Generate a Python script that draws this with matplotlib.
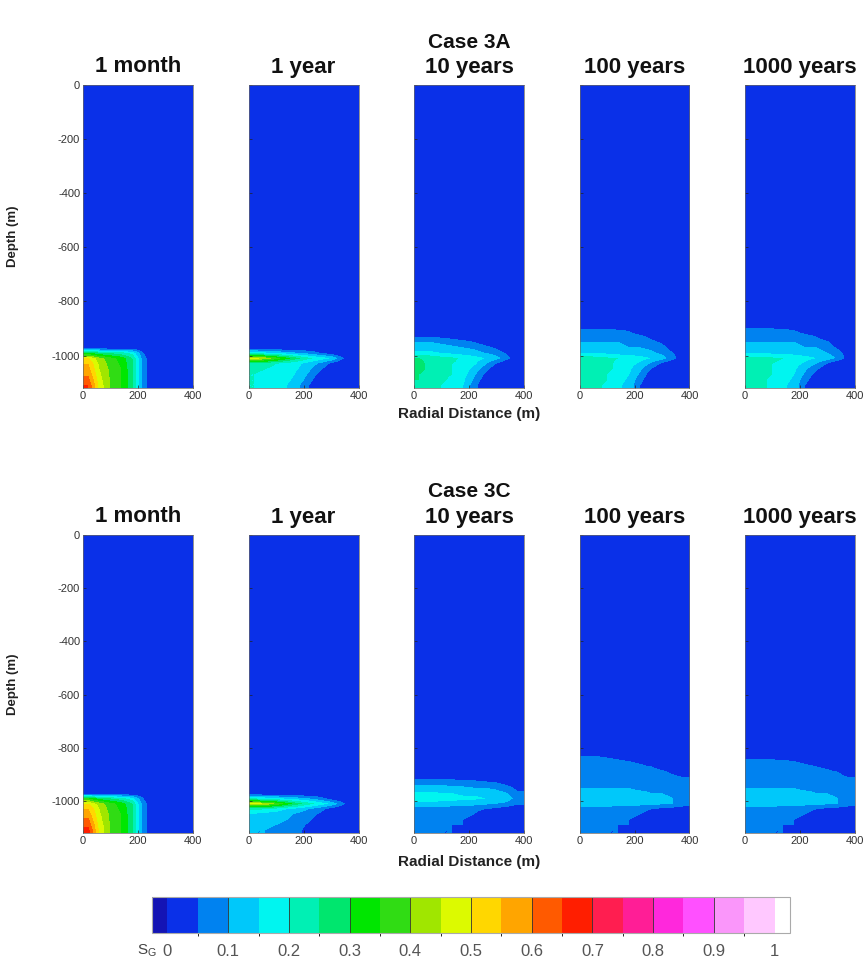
import numpy as np
import matplotlib
matplotlib.use("Agg")
import matplotlib.pyplot as plt
from matplotlib.colors import ListedColormap, BoundaryNorm

plt.rcParams['font.family'] = ['Liberation Sans', 'DejaVu Sans']
plt.rcParams['mathtext.default'] = 'regular'

# ---------------- data ----------------
case_titles = ["Case 3A", "Case 3C"]
time_labels = ["1 month", "1 year", "10 years", "100 years", "1000 years"]
radial_ticks = [0, 200, 400]
depth_ticks = [0, -200, -400, -600, -800, -1000]
sg_ticks = [0, 0.1, 0.2, 0.3, 0.4, 0.5, 0.6, 0.7, 0.8, 0.9, 1]
sg_tick_labels = ["0", "0.1", "0.2", "0.3", "0.4", "0.5", "0.6", "0.7", "0.8", "0.9", "1"]

# grid: radial cells of 40 m (0-400 m), depth cells of 20 m
# rows listed from -800 m (top) down to -1120 m (bottom); values = gas saturation in %
r_edges = [0, 400]
model_bottom = -1120

sg_3a_1month = [
    [0, 0, 0, 0, 0, 0, 0, 0, 0, 0],
    [0, 0, 0, 0, 0, 0, 0, 0, 0, 0],
    [0, 0, 0, 0, 0, 0, 0, 0, 0, 0],
    [0, 0, 0, 0, 0, 0, 0, 0, 0, 0],
    [0, 0, 0, 0, 0, 0, 0, 0, 0, 0],
    [0, 0, 0, 0, 0, 0, 0, 0, 0, 0],
    [0, 0, 0, 0, 0, 0, 0, 0, 0, 0],
    [0, 0, 0, 0, 0, 0, 0, 0, 0, 0],
    [0, 0, 0, 0, 0, 0, 0, 0, 0, 0],
    [30, 26, 24, 22, 18, 5, 0, 0, 0, 0],
    [50, 42, 37, 33, 25, 7, 0, 0, 0, 0],
    [55, 44, 38, 34, 26, 7, 0, 0, 0, 0],
    [57, 45, 39, 35, 26, 7, 0, 0, 0, 0],
    [59, 46, 39, 35, 26, 7, 0, 0, 0, 0],
    [62, 47, 40, 35, 26, 7, 0, 0, 0, 0],
    [65, 48, 40, 35, 26, 7, 0, 0, 0, 0],
]
sg_3a_1year = [
    [0, 0, 0, 0, 0, 0, 0, 0, 0, 0],
    [0, 0, 0, 0, 0, 0, 0, 0, 0, 0],
    [0, 0, 0, 0, 0, 0, 0, 0, 0, 0],
    [0, 0, 0, 0, 0, 0, 0, 0, 0, 0],
    [0, 0, 0, 0, 0, 0, 0, 0, 0, 0],
    [0, 0, 0, 0, 0, 0, 0, 0, 0, 0],
    [0, 0, 0, 0, 0, 0, 0, 0, 0, 0],
    [0, 0, 0, 0, 0, 0, 0, 0, 0, 0],
    [0, 0, 0, 0, 0, 0, 0, 0, 0, 0],
    [18, 16, 14, 12, 10, 8, 5, 2, 0, 0],
    [48, 44, 38, 32, 26, 21, 18, 15, 6, 0],
    [24, 22, 20, 18, 16, 13, 9, 4, 0, 0],
    [21, 20, 19, 17, 15, 11, 6, 1, 0, 0],
    [20, 19, 18, 17, 14, 9, 3, 0, 0, 0],
    [20, 19, 18, 16, 13, 7, 1, 0, 0, 0],
    [20, 19, 17, 15, 11, 5, 0, 0, 0, 0],
]
sg_3a_10years = [
    [0, 0, 0, 0, 0, 0, 0, 0, 0, 0],
    [0, 0, 0, 0, 0, 0, 0, 0, 0, 0],
    [0, 0, 0, 0, 0, 0, 0, 0, 0, 0],
    [0, 0, 0, 0, 0, 0, 0, 0, 0, 0],
    [0, 0, 0, 0, 0, 0, 0, 0, 0, 0],
    [0, 0, 0, 0, 0, 0, 0, 0, 0, 0],
    [5, 5, 4, 3, 1, 0, 0, 0, 0, 0],
    [10, 10, 9, 8, 7, 5, 2, 0, 0, 0],
    [13, 13, 12, 11, 10, 9, 7, 4, 0, 0],
    [16, 16, 15, 14, 13, 12, 10, 8, 4, 0],
    [25, 24, 22, 21, 19, 17, 15, 12, 7, 0],
    [26, 24, 22, 20, 19, 16, 11, 5, 0, 0],
    [26, 24, 22, 20, 18, 13, 7, 1, 0, 0],
    [25, 24, 21, 20, 17, 11, 4, 0, 0, 0],
    [25, 23, 21, 19, 16, 9, 2, 0, 0, 0],
    [24, 23, 20, 18, 15, 7, 0, 0, 0, 0],
]
sg_3a_100years = [
    [0, 0, 0, 0, 0, 0, 0, 0, 0, 0],
    [0, 0, 0, 0, 0, 0, 0, 0, 0, 0],
    [0, 0, 0, 0, 0, 0, 0, 0, 0, 0],
    [0, 0, 0, 0, 0, 0, 0, 0, 0, 0],
    [0, 0, 0, 0, 0, 0, 0, 0, 0, 0],
    [8, 8, 8, 7, 5, 1, 0, 0, 0, 0],
    [9, 9, 9, 9, 8, 7, 3, 0, 0, 0],
    [10, 10, 10, 10, 9, 9, 7, 4, 0, 0],
    [12, 12, 11, 11, 10, 10, 9, 7, 2, 0],
    [15, 15, 14, 13, 12, 12, 11, 9, 5, 0],
    [23, 22, 21, 20, 19, 17, 15, 12, 7, 0],
    [24, 23, 21, 19, 17, 14, 9, 4, 0, 0],
    [24, 23, 21, 19, 16, 11, 5, 0, 0, 0],
    [24, 22, 20, 18, 15, 9, 2, 0, 0, 0],
    [23, 22, 20, 17, 14, 7, 0, 0, 0, 0],
    [23, 21, 19, 16, 13, 5, 0, 0, 0, 0],
]
sg_3a_1000years = [
    [0, 0, 0, 0, 0, 0, 0, 0, 0, 0],
    [0, 0, 0, 0, 0, 0, 0, 0, 0, 0],
    [0, 0, 0, 0, 0, 0, 0, 0, 0, 0],
    [0, 0, 0, 0, 0, 0, 0, 0, 0, 0],
    [2, 2, 2, 1, 0, 0, 0, 0, 0, 0],
    [8, 8, 8, 8, 6, 2, 0, 0, 0, 0],
    [9, 9, 9, 9, 9, 8, 5, 1, 0, 0],
    [10, 10, 10, 10, 10, 9, 8, 6, 1, 0],
    [12, 12, 11, 11, 11, 10, 10, 8, 4, 0],
    [15, 15, 14, 14, 13, 12, 12, 10, 7, 1],
    [22, 22, 21, 20, 19, 17, 15, 13, 9, 2],
    [23, 22, 20, 19, 17, 14, 10, 5, 0, 0],
    [23, 22, 20, 18, 16, 11, 6, 1, 0, 0],
    [23, 22, 20, 18, 15, 9, 3, 0, 0, 0],
    [23, 21, 19, 17, 14, 7, 1, 0, 0, 0],
    [22, 21, 19, 16, 13, 5, 0, 0, 0, 0],
]
sg_3c_1month = [
    [0, 0, 0, 0, 0, 0, 0, 0, 0, 0],
    [0, 0, 0, 0, 0, 0, 0, 0, 0, 0],
    [0, 0, 0, 0, 0, 0, 0, 0, 0, 0],
    [0, 0, 0, 0, 0, 0, 0, 0, 0, 0],
    [0, 0, 0, 0, 0, 0, 0, 0, 0, 0],
    [0, 0, 0, 0, 0, 0, 0, 0, 0, 0],
    [0, 0, 0, 0, 0, 0, 0, 0, 0, 0],
    [0, 0, 0, 0, 0, 0, 0, 0, 0, 0],
    [0, 0, 0, 0, 0, 0, 0, 0, 0, 0],
    [35, 28, 25, 22, 17, 5, 0, 0, 0, 0],
    [50, 43, 37, 33, 25, 7, 0, 0, 0, 0],
    [55, 45, 38, 34, 26, 7, 0, 0, 0, 0],
    [58, 46, 39, 35, 26, 7, 0, 0, 0, 0],
    [61, 47, 39, 35, 26, 7, 0, 0, 0, 0],
    [64, 48, 40, 35, 26, 7, 0, 0, 0, 0],
    [67, 49, 40, 35, 26, 7, 0, 0, 0, 0],
]
sg_3c_1year = [
    [0, 0, 0, 0, 0, 0, 0, 0, 0, 0],
    [0, 0, 0, 0, 0, 0, 0, 0, 0, 0],
    [0, 0, 0, 0, 0, 0, 0, 0, 0, 0],
    [0, 0, 0, 0, 0, 0, 0, 0, 0, 0],
    [0, 0, 0, 0, 0, 0, 0, 0, 0, 0],
    [0, 0, 0, 0, 0, 0, 0, 0, 0, 0],
    [0, 0, 0, 0, 0, 0, 0, 0, 0, 0],
    [0, 0, 0, 0, 0, 0, 0, 0, 0, 0],
    [0, 0, 0, 0, 0, 0, 0, 0, 0, 0],
    [20, 18, 16, 14, 12, 10, 7, 3, 0, 0],
    [48, 45, 40, 33, 27, 22, 18, 14, 7, 0],
    [22, 20, 18, 15, 13, 10, 7, 3, 0, 0],
    [14, 13, 12, 11, 9, 7, 4, 0, 0, 0],
    [12, 12, 11, 10, 8, 6, 2, 0, 0, 0],
    [11, 11, 10, 9, 7, 4, 0, 0, 0, 0],
    [10, 10, 9, 8, 6, 3, 0, 0, 0, 0],
]
sg_3c_10years = [
    [0, 0, 0, 0, 0, 0, 0, 0, 0, 0],
    [0, 0, 0, 0, 0, 0, 0, 0, 0, 0],
    [0, 0, 0, 0, 0, 0, 0, 0, 0, 0],
    [0, 0, 0, 0, 0, 0, 0, 0, 0, 0],
    [0, 0, 0, 0, 0, 0, 0, 0, 0, 0],
    [3, 3, 3, 3, 2, 2, 1, 0, 0, 0],
    [8, 8, 8, 8, 7, 7, 6, 5, 3, 0],
    [12, 12, 12, 11, 11, 10, 10, 9, 7, 3],
    [16, 16, 15, 15, 14, 14, 13, 12, 10, 6],
    [18, 18, 17, 17, 16, 16, 15, 14, 12, 8],
    [14, 14, 13, 13, 12, 12, 11, 10, 9, 6],
    [8, 8, 8, 7, 7, 6, 5, 4, 2, 0],
    [7, 7, 7, 6, 6, 5, 3, 1, 0, 0],
    [7, 7, 6, 6, 5, 4, 2, 0, 0, 0],
    [6, 6, 6, 5, 5, 3, 1, 0, 0, 0],
    [6, 6, 5, 5, 4, 2, 0, 0, 0, 0],
]
sg_3c_100years = [
    [0, 0, 0, 0, 0, 0, 0, 0, 0, 0],
    [5, 5, 4, 3, 1, 0, 0, 0, 0, 0],
    [7, 7, 7, 6, 5, 4, 2, 0, 0, 0],
    [8, 8, 8, 7, 7, 6, 5, 3, 1, 0],
    [8, 8, 8, 8, 8, 7, 7, 6, 4, 2],
    [9, 9, 9, 9, 8, 8, 8, 7, 6, 5],
    [9, 9, 9, 9, 9, 9, 8, 8, 7, 6],
    [10, 10, 10, 10, 10, 9, 9, 9, 8, 7],
    [12, 12, 12, 11, 11, 11, 10, 10, 9, 8],
    [13, 13, 13, 13, 12, 12, 12, 11, 10, 9],
    [13, 13, 13, 12, 12, 12, 11, 11, 10, 8],
    [8, 8, 8, 7, 7, 6, 5, 4, 3, 2],
    [7, 7, 7, 6, 6, 5, 4, 2, 1, 0],
    [7, 7, 6, 6, 5, 4, 2, 1, 0, 0],
    [6, 6, 6, 5, 5, 3, 1, 0, 0, 0],
    [6, 6, 5, 5, 4, 2, 0, 0, 0, 0],
]
sg_3c_1000years = [
    [0, 0, 0, 0, 0, 0, 0, 0, 0, 0],
    [3, 3, 3, 2, 1, 0, 0, 0, 0, 0],
    [6, 6, 6, 6, 5, 4, 3, 1, 0, 0],
    [7, 7, 7, 7, 7, 6, 5, 4, 2, 0],
    [8, 8, 8, 8, 8, 7, 7, 6, 5, 3],
    [8, 8, 8, 8, 8, 8, 8, 7, 6, 5],
    [9, 9, 9, 9, 9, 9, 8, 8, 7, 6],
    [10, 10, 10, 10, 10, 9, 9, 9, 8, 7],
    [12, 12, 12, 11, 11, 11, 10, 10, 9, 8],
    [13, 13, 13, 13, 12, 12, 12, 11, 10, 9],
    [13, 13, 13, 12, 12, 12, 11, 11, 10, 8],
    [8, 8, 8, 7, 7, 6, 5, 4, 3, 2],
    [7, 7, 7, 6, 6, 5, 4, 2, 1, 0],
    [7, 7, 6, 6, 5, 4, 2, 1, 0, 0],
    [6, 6, 6, 5, 5, 3, 1, 0, 0, 0],
    [6, 6, 5, 5, 4, 2, 0, 0, 0, 0],
]

case_fields = [
    [sg_3a_1month, sg_3a_1year, sg_3a_10years, sg_3a_100years, sg_3a_1000years],
    [sg_3c_1month, sg_3c_1year, sg_3c_10years, sg_3c_100years, sg_3c_1000years],
]

# ---------------- colormap ----------------
level_colors = [
    "#0a30e8", "#0082f0", "#00c8fa", "#00f5f0", "#00f0b4",
    "#00e66e", "#00e600", "#30dc14", "#a0e600", "#dcfa00",
    "#ffd700", "#ffa500", "#ff5a00", "#ff1e00", "#ff1e50",
    "#ff1e96", "#ff28dc", "#ff50ff", "#fa96fa", "#ffc8ff",
]
cmap = ListedColormap(level_colors)
cmap.set_under("#1414b4")
cmap.set_over("#ffffff")
bounds = np.linspace(0, 1, 21)
norm = BoundaryNorm(bounds, cmap.N)

# ---------------- layout ----------------
W, H = 865, 966
fig = plt.figure(figsize=(W / 100, H / 100), dpi=100)

lefts_px = [83, 248.5, 414, 579.5, 745]
panel_w = 110
rows_px = [(85, 388), (535, 833)]  # (top, bottom)
case_title_y = [42, 492]
time_title_y = [67, 517]
xlabel_y = [414, 862]

row_step = 20
n_full = int((0 - model_bottom) / row_step)

for ci, (top, bot) in enumerate(rows_px):
    for pi, field in enumerate(case_fields[ci]):
        ax = fig.add_axes([lefts_px[pi] / W, 1 - bot / H, panel_w / W, (bot - top) / H])
        data = np.array(field, dtype=float) / 100.0
        full = np.zeros((n_full, data.shape[1]))
        full[-data.shape[0]:] = data
        ax.imshow(full, cmap=cmap, norm=norm, origin="upper", aspect="auto",
                  extent=(r_edges[0], r_edges[1], model_bottom, 0),
                  interpolation="bilinear", interpolation_stage="data")
        ax.set_xlim(r_edges[0], r_edges[1])
        ax.set_ylim(model_bottom, 0)
        ax.set_xticks(radial_ticks)
        ax.set_xticklabels([str(t) for t in radial_ticks])
        ax.set_yticks(depth_ticks)
        if pi == 0:
            ax.set_yticklabels([str(t) for t in depth_ticks])
        else:
            ax.set_yticklabels([])
        ax.tick_params(direction="in", length=2.5, width=0.5, labelsize=8,
                       labelcolor="#333333", color="#222222", pad=2)
        for s in ax.spines.values():
            s.set_linewidth(0.5)
            s.set_color("#666666")
        fig.text((lefts_px[pi] + panel_w / 2) / W, 1 - time_title_y[ci] / H,
                 time_labels[pi], ha="center", va="center", fontsize=16,
                 fontweight="bold", color="#111111")
    fig.text((lefts_px[2] + panel_w / 2) / W, 1 - case_title_y[ci] / H,
             case_titles[ci], ha="center", va="center", fontsize=15,
             fontweight="bold", color="#111111")
    fig.text((lefts_px[2] + panel_w / 2) / W, 1 - xlabel_y[ci] / H,
             "Radial Distance (m)", ha="center", va="center", fontsize=11,
             fontweight="bold", color="#222222")
    fig.text(13 / W, 1 - ((top + bot) / 2) / H, "Depth (m)", ha="center",
             va="center", rotation=90, fontsize=9.5, fontweight="bold",
             color="#222222")

# ---------------- colorbar ----------------
cax = fig.add_axes([152 / W, 1 - 933 / H, (790 - 152) / W, 36 / H])
sm = matplotlib.cm.ScalarMappable(norm=norm, cmap=cmap)
cbar = fig.colorbar(sm, cax=cax, orientation="horizontal", extend="both",
                    extendrect=True, extendfrac=0.0255, spacing="uniform")
cbar.set_ticks(sg_ticks)
cbar.set_ticklabels(sg_tick_labels)
cbar.ax.tick_params(length=0, labelsize=12, labelcolor="#555555", pad=8)
cbar.outline.set_edgecolor("#aaaaaa")
cbar.outline.set_linewidth(0.8)
for t in sg_ticks[1:]:
    cbar.ax.axvline(t, color="#333333", linewidth=0.6)
fig.text(147 / W, 1 - 951 / H, r"S$_{G}$", ha="center", va="center",
         fontsize=11, color="#444444")

fig.savefig("out.png", dpi=100)
